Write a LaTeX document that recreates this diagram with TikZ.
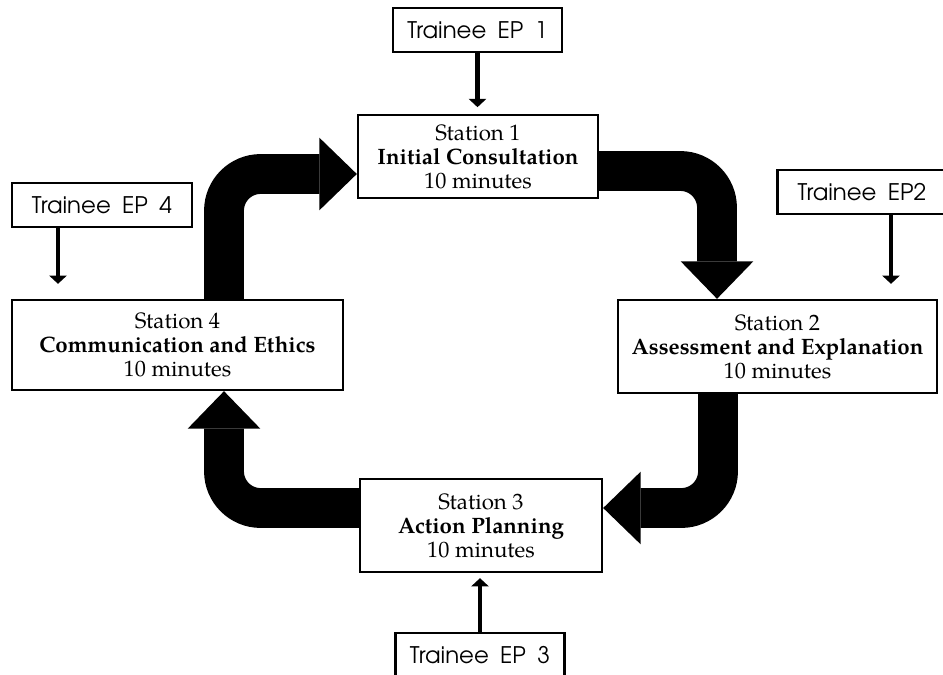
\documentclass[tikz,border=0pt]{standalone}
\usepackage{fontspec}
\setmainfont{texgyrepagella}[Extension=.otf,UprightFont=*-regular,BoldFont=*-bold]
\newfontfamily\traineefont{texgyreadventor}[Extension=.otf,UprightFont=*-regular,WordSpace=1.8]
\usetikzlibrary{arrows.meta,calc}

\tikzset{
  station/.style={draw, line width=2pt, align=center, inner sep=0pt,
    font=\fontsize{19}{20.5}\selectfont},
  trainee/.style={draw, line width=2pt, inner sep=0pt,
    minimum width=5.07cm, minimum height=1.32cm,
    font=\traineefont\fontsize{19.5}{22}\selectfont},
  bigarrow/.style={line width=34pt, rounded corners=1.1cm,
    -{Triangle[length=32pt,width=62pt,line width=0pt]}},
  feed/.style={line width=4pt,
    -{Triangle[length=7pt,width=15pt,line width=0pt]}}
}

\begin{document}
\begin{tikzpicture}[x=0.03cm,y=-0.03cm]
  \useasboundingbox (0,0) rectangle (943,675);

  \node[station, minimum width=7.2cm, minimum height=2.49cm] (st1) at (478,156.5)
    {Station 1\\\textbf{Initial Consultation}\\10 minutes};
  \node[station, minimum width=9.57cm, minimum height=2.79cm] (st2) at (777.5,346.5)
    {Station 2\\\textbf{Assessment and Explanation}\\10 minutes};
  \node[station, minimum width=7.26cm, minimum height=2.79cm] (st3) at (481,525.5)
    {Station 3\\\textbf{Action Planning}\\10 minutes};
  \node[station, minimum width=9.93cm, minimum height=2.7cm] (st4) at (177.5,345)
    {Station 4\\\textbf{Communication and Ethics}\\10 minutes};

  \node[trainee] (tr1) at (477.5,30) {Trainee EP 1};
  \node[trainee] (tr2) at (862,192) {Trainee EP2};
  \node[trainee] (tr3) at (480,655) {Trainee EP 3};
  \node[trainee, minimum width=5.4cm] (tr4) at (102,205) {Trainee EP 4};

  % bends of the big loop
  \coordinate (k1) at (224,174);
  \coordinate (k2) at (717,171);
  \coordinate (k3) at (718,508);
  \coordinate (k4) at (224,508);

  \draw[bigarrow] (st4.north -| k1) -- (k1) -- (st1.west |- k1);
  \draw[bigarrow] (st1.east |- k2) -- (k2) -- (st2.north -| k2);
  \draw[bigarrow] (st2.south -| k3) -- (k3) -- (st3.east |- k3);
  \draw[bigarrow] (st3.west |- k4) -- (k4) -- (st4.south -| k4);

  \coordinate (f2) at ($(tr2.south)+(29,0)$);
  \coordinate (f4) at ($(tr4.south)+(-44,0)$);
  \draw[feed, shorten >=0.2cm] (tr1.south) -- (tr1.south |- st1.north);
  \draw[feed, shorten >=0.45cm] (f2) -- (f2 |- st2.north);
  \draw[feed, shorten >=0.15cm] (tr3.north) -- (tr3.north |- st3.south);
  \draw[feed, shorten >=0.45cm] (f4) -- (f4 |- st4.north);
\end{tikzpicture}
\end{document}
